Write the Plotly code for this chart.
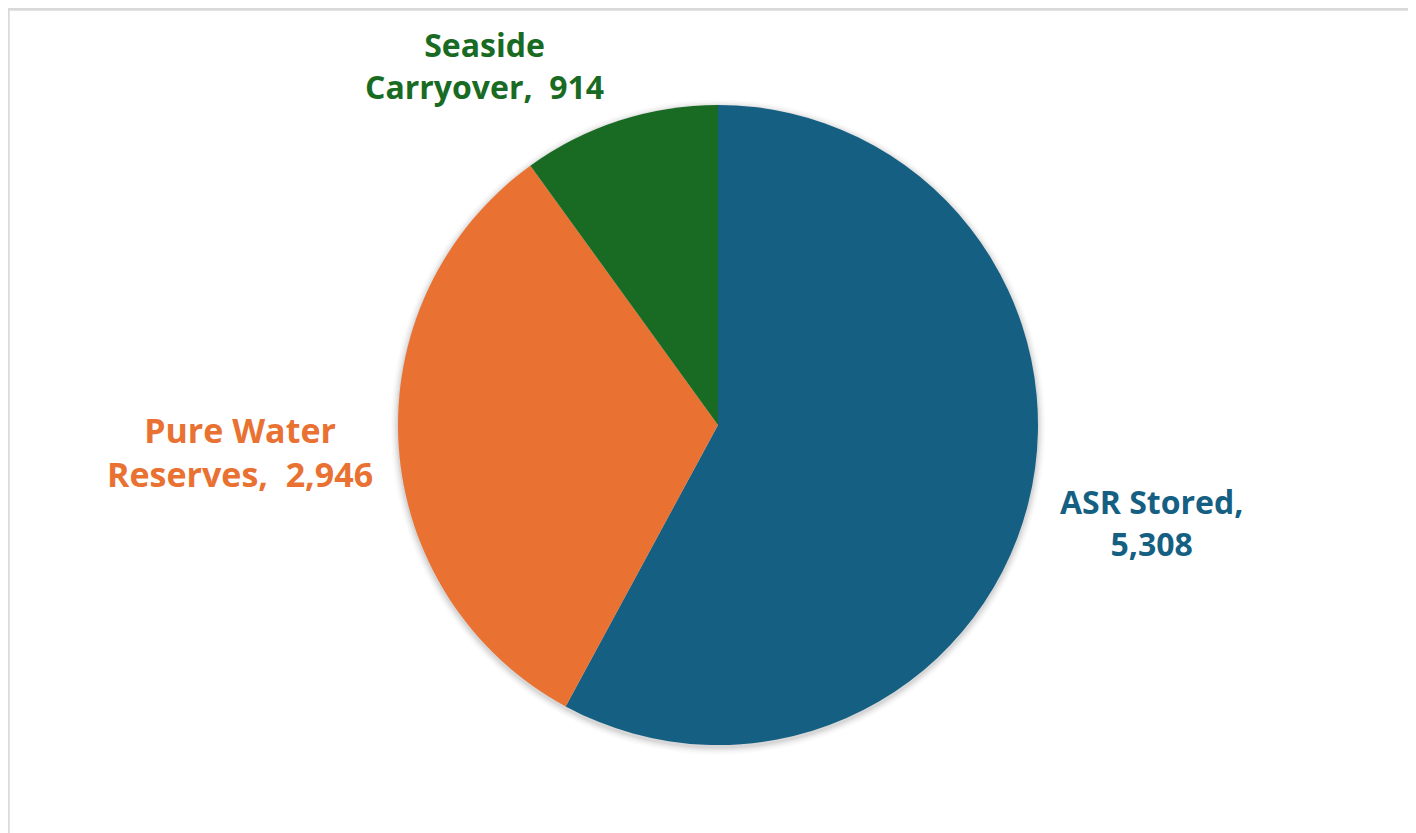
import plotly.graph_objects as go

categories = ["ASR Stored", "Pure Water Reserves", "Seaside Carryover"]
values = [5308, 2946, 914]
colors = ["#156082", "#E97132", "#196B24"]
label_lines = [["ASR Stored,", "{v}"], ["Pure Water", "Reserves,  {v}"], ["Seaside", "Carryover,  {v}"]]

W, H = 1416, 833
OFF = 8  # page body margin
cx, cy, r = 718 - OFF, 425 - OFF, 320

fig = go.Figure()
fig.add_trace(go.Pie(
    labels=categories,
    values=values,
    sort=False,
    direction="clockwise",
    rotation=0,
    marker=dict(colors=colors, line=dict(width=0)),
    textinfo="none",
    hoverinfo="label+value",
    showlegend=False,
    domain=dict(x=[(cx - r) / W, (cx + r) / W], y=[1 - (cy + r) / H, 1 - (cy - r) / H]),
))

# soft shadow around the pie
for i, op in enumerate([0.05, 0.04, 0.03, 0.02, 0.015]):
    rr = r + 1.5 * (i + 1)
    fig.add_shape(type="circle", xref="paper", yref="paper",
                  x0=(cx - rr) / W, x1=(cx + rr) / W,
                  y0=1 - (cy + rr + 2) / H, y1=1 - (cy - rr + 2) / H,
                  line=dict(width=0), fillcolor=f"rgba(0,0,0,{op})", layer="below")

label_pos = [(1151, 522, 32), (240, 452, 34), (484, 65, 32)]
for cat, val, col, lines, (lx, ly, fs) in zip(categories, values, colors, label_lines, label_pos):
    txt = "<br>".join(l.format(v=f"{val:,}") for l in lines)
    fig.add_annotation(
        x=(lx - OFF) / W, y=1 - (ly - OFF) / H, xref="paper", yref="paper",
        text=f"<b>{txt}</b>", showarrow=False, align="center",
        xanchor="center", yanchor="middle",
        font=dict(family="Open Sans", size=fs, color=col),
    )

fig.add_shape(type="rect", xref="paper", yref="paper",
              x0=(7.5 - OFF) / W + 0.0005, x1=1.05, y0=-0.05, y1=1 - (8.5 - OFF) / H - 0.001,
              line=dict(color="#d9d9d9", width=3), fillcolor="rgba(0,0,0,0)", layer="below")

fig.update_layout(
    width=W, height=H,
    margin=dict(l=0, r=0, t=0, b=0),
    paper_bgcolor="white", plot_bgcolor="white",
)
fig.write_html("out.html")
